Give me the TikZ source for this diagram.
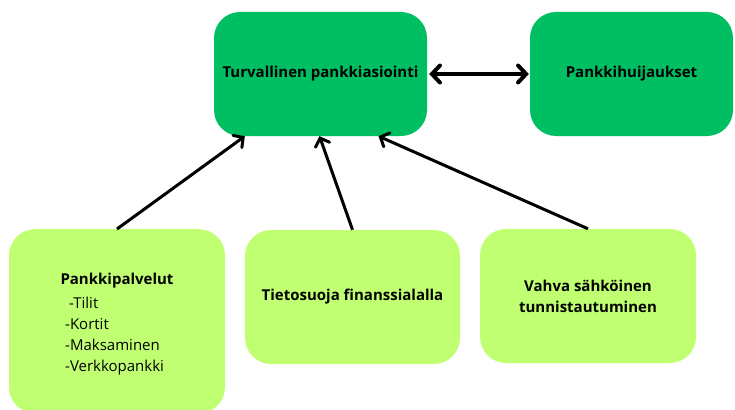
\documentclass[tikz,border=0pt]{standalone}
\usepackage{fontspec}
\setmainfont{Open Sans}
\usetikzlibrary{arrows.meta}
\definecolor{dgreen}{RGB}{0,191,99}
\definecolor{lgreen}{RGB}{193,255,114}
\tikzset{
  dbox/.style={rectangle, rounded corners=26pt, fill=dgreen, draw=none, align=center, font=\bfseries\fontsize{15}{21}\selectfont},
  lbox/.style={rectangle, rounded corners=26pt, fill=lgreen, draw=none, align=center, font=\bfseries\fontsize{15}{21}\selectfont},
  conn/.style={line width=3pt, -{Straight Barb[length=7pt,width=15pt,line cap=round]}},
  dconn/.style={line width=4pt, {Straight Barb[length=8pt,width=17pt,line cap=round]}-{Straight Barb[length=8pt,width=17pt,line cap=round]}}
}
\begin{document}
\begin{tikzpicture}[x=1pt,y=-1pt]
\useasboundingbox (0,0) rectangle (735,409);
\node[dbox, minimum width=213pt, minimum height=124pt] (A) at (320.5,74) {Turvallinen pankkiasiointi};
\node[dbox, minimum width=203pt, minimum height=124pt] (B) at (631.5,74) {Pankkihuijaukset};
\node[lbox, minimum width=216pt, minimum height=184pt, anchor=north] (C) at (117,229) {};
\node[font=\bfseries\fontsize{15}{18}\selectfont] (Ct) at (117,281) {Pankkipalvelut};
\node[font=\fontsize{15}{21}\selectfont, align=left, anchor=north west, inner sep=0pt] (Cl) at (65,297) {\ -Tilit\\-Kortit\\-Maksaminen\\-Verkkopankki};
\node[lbox, minimum width=215pt, minimum height=134pt] (D) at (352.5,297) {Tietosuoja finanssialalla};
\node[lbox, minimum width=216pt, minimum height=134pt] (E) at (588,296) {Vahva sähköinen\\tunnistautuminen};
\draw[conn] (C.north) -- ([xshift=31pt]A.south west);
\draw[conn] (D.north) -- ([xshift=-1pt]A.south);
\draw[conn] (E.north) -- ([xshift=58pt]A.south);
\draw[dconn] ([xshift=2pt]A.east) -- ([xshift=-1pt]B.west);
\end{tikzpicture}
\end{document}
